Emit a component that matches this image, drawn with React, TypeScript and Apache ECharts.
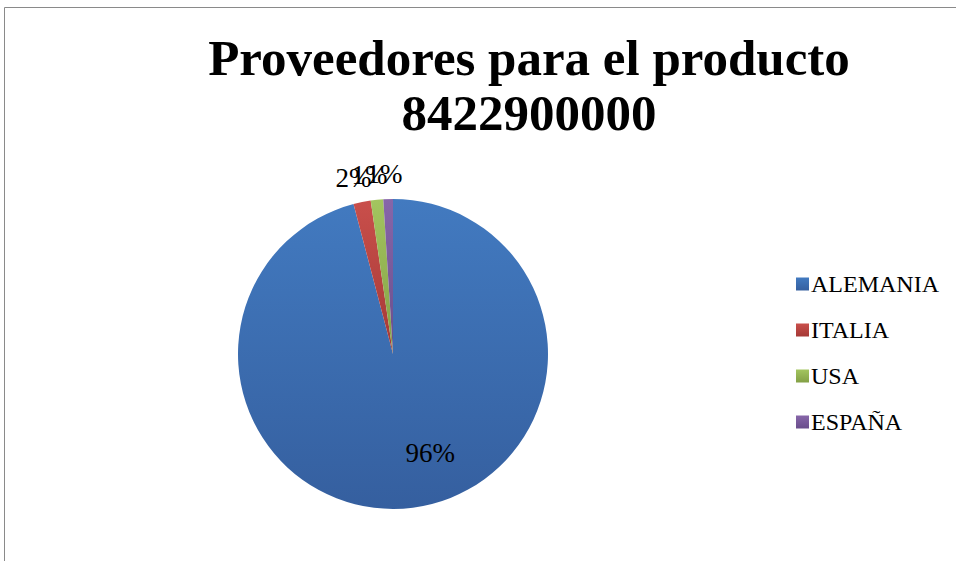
import React, { useEffect, useRef } from "react";
import * as echarts from "echarts";

const titleLines = ["Proveedores para el producto", "8422900000"];
const categories = ["ALEMANIA", "ITALIA", "USA", "ESPAÑA"];
const values = [95.9, 1.8, 1.3, 1.0];
const colorsTop = ["#427ac0", "#c94f4b", "#a3c55f", "#8766a9"];
const colorsBottom = ["#355f9f", "#a53936", "#83a045", "#694d8b"];

const FONT = "'Liberation Serif', 'DejaVu Serif', serif";

export default function App() {
  const ref = useRef<HTMLDivElement>(null);
  useEffect(() => {
    if (!ref.current) return;
    const chart = echarts.init(ref.current, undefined, { renderer: "svg" });
    const grad = (i: number) =>
      new echarts.graphic.LinearGradient(0, 0, 0, 1, [
        { offset: 0, color: colorsTop[i] },
        { offset: 1, color: colorsBottom[i] },
      ]);
    const labelShift = [
      [27, 19],
      [1, -2],
      [0, -2],
      [2, -2],
    ];
    chart.setOption({
      animation: false,
      backgroundColor: "#ffffff",
      graphic: [
        {
          type: "rect",
          shape: { x: 4.5, y: 7.5, width: 1000, height: 600 },
          style: { fill: "none", stroke: "#8a8a8a", lineWidth: 1 },
          silent: true,
        },
      ],
      title: {
        text: titleLines.join("\n"),
        left: 524,
        textAlign: "center",
        top: 25,
        textStyle: {
          fontFamily: FONT,
          fontWeight: "bold",
          fontSize: 51,
          lineHeight: 55,
          color: "#000000",
        },
      },
      legend: {
        orient: "vertical",
        left: 791,
        top: 267,
        itemWidth: 13,
        itemHeight: 13,
        itemGap: 22,
        icon: "rect",
        textStyle: { fontFamily: FONT, fontSize: 24, color: "#000000", padding: [0, 0, 0, -3] },
        data: categories,
      },
      series: [
        {
          type: "pie",
          center: [393, 354],
          radius: 155,
          startAngle: 90,
          clockwise: true,
          avoidLabelOverlap: false,
          itemStyle: { borderWidth: 0 },
          label: {
            show: true,
            position: "outside",
            formatter: (p: any) => Math.round(p.percent) + "%",
            fontFamily: FONT,
            fontSize: 27,
            color: "#000000",
          },
          labelLine: { show: false, length: 23, length2: 0 },
          labelLayout: (p: any) => ({
            align: "center",
            dx: labelShift[p.dataIndex][0],
            dy: labelShift[p.dataIndex][1],
          }),
          emphasis: { disabled: true },
          data: categories.map((name, i) => ({
            name,
            value: values[i],
            itemStyle: { color: grad(i) },
            label: i === 0 ? { position: "inside" } : undefined,
          })),
        },
      ],
    });
    return () => chart.dispose();
  }, []);
  return (
    <div
      ref={ref}
      style={{ position: "fixed", left: 0, top: 0, width: 956, height: 561 }}
    />
  );
}
